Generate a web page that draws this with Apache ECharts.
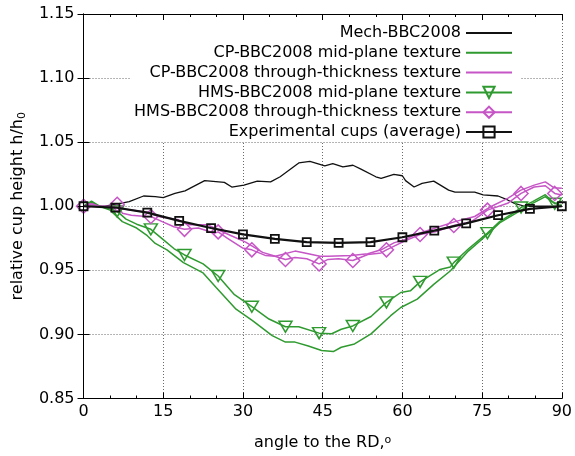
<!DOCTYPE html>
<html><head><meta charset="utf-8">
<script src="https://cdn.jsdelivr.net/npm/echarts@6/dist/echarts.min.js"></script>
<style>html,body{margin:0;padding:0;background:#fff}#c{width:575px;height:456px}</style>
</head><body><div id="c"></div>
<script>
// ---- data ----
const xTicks = [0, 15, 30, 45, 60, 75, 90];
const yTicks = [0.85, 0.90, 0.95, 1.00, 1.05, 1.10, 1.15];

const seriesNames = [
  'Mech-BBC2008',
  'CP-BBC2008 mid-plane texture',
  'CP-BBC2008 through-thickness texture',
  'HMS-BBC2008 mid-plane texture',
  'HMS-BBC2008 through-thickness texture',
  'Experimental cups (average)'
];

const mechAngle = [0,4,6.7,8.6,11.3,13.5,15,17.2,19.1,22.8,26.5,27.9,30.2,32.7,35.2,37,40.5,42.6,45.4,46.9,48.8,50.7,52.2,55,56,58.4,60,60.6,62.2,63.7,65.9,68.7,69.9,73.6,75.2,78,79.8,81.1,83,86,90];
const mechRatio = [1.000,1.000,1.002,1.0036,1.008,1.0075,1.0067,1.010,1.012,1.020,1.0186,1.015,1.0165,1.0196,1.019,1.023,1.0338,1.035,1.0315,1.0333,1.0307,1.032,1.029,1.023,1.0217,1.0248,1.0238,1.020,1.015,1.0178,1.0196,1.0126,1.011,1.011,1.0088,1.008,1.0049,1.0023,1.000,1.000,1.000];

const cpMidAngle = [0,1.5,3,5,7.3,10,12,13.5,15.7,18.8,22.5,25,28.7,31.8,35.5,38,39.8,42.3,44.8,47,48.5,51,54.1,57.8,59.7,62.8,65.9,69,72.4,75.2,78.3,81.4,84.5,86.9,88,89.4,90];
const cpMidRatio = [1.000,1.003,1.000,0.997,0.988,0.983,0.977,0.971,0.966,0.956,0.948,0.9365,0.9197,0.9108,0.899,0.894,0.894,0.891,0.8875,0.8866,0.890,0.8926,0.9004,0.9146,0.921,0.9275,0.939,0.9495,0.965,0.975,0.987,0.9946,1.0023,1.0075,1.004,1.001,1.001];

const cpThruAngle = [0,1.5,3,5,7.3,12,14.1,17.9,19.7,23.4,25.3,27.8,30.5,33.7,36.1,39.8,42.3,44.5,46,50.4,53.5,56,58.4,60.5,62.5,66.2,69.9,73.6,76.7,79.8,82.3,84.8,86.9,88.5,90];
const cpThruRatio = [1.000,1.002,1.000,1.000,0.998,0.9954,0.992,0.9894,0.9855,0.9855,0.9817,0.977,0.972,0.964,0.961,0.965,0.963,0.961,0.961,0.9615,0.963,0.966,0.9714,0.974,0.978,0.983,0.988,0.992,0.9998,1.0062,1.0126,1.0165,1.019,1.0145,1.014];

const hmsMidAngle = [0,1.5,3,5,6.33,8,10,12.67,15,17,19,22.5,25.33,28.4,31.67,34.9,38,40.5,44.33,46.7,48.5,50.67,54.1,57,59.7,61.5,63.33,67.1,69,69.67,72.5,76,78.3,81,82.33,84.5,86.9,88.67,90];
const hmsMidRatio = [1.000,1.004,1.000,0.998,0.996,0.990,0.986,0.982,0.974,0.967,0.962,0.955,0.9456,0.931,0.9216,0.912,0.906,0.906,0.901,0.9005,0.904,0.9066,0.914,0.925,0.9327,0.934,0.941,0.9507,0.9526,0.956,0.967,0.979,0.988,0.995,0.999,1.0036,1.009,1.002,1.004];
const hmsMidMarked = [6.33,12.67,19,25.33,31.67,38,44.33,50.67,57,63.33,69.67,76,82.33,88.67];

const hmsThruAngle = [0,1.5,3,5,6.33,7.3,9,11.7,12.67,14.8,17,19,21.6,24.7,25.33,27.1,29.9,31.67,34.3,36,38,39.8,42,44.33,46,48,50.67,53.5,56,57,59.7,60.5,63.33,66.2,69.67,73,76,79.8,82.33,84.8,86.9,88.67,90];
const hmsThruRatio = [1.000,1.002,1.000,0.999,1.0015,0.9946,0.993,0.992,0.992,0.988,0.984,0.982,0.983,0.979,0.980,0.975,0.9675,0.966,0.9615,0.961,0.9585,0.960,0.959,0.955,0.9585,0.959,0.9577,0.9623,0.9636,0.966,0.9714,0.973,0.978,0.980,0.985,0.988,0.997,1.0023,1.010,1.015,1.016,1.010,1.0088];
const hmsThruMarked = [0,6.33,12.67,19,25.33,31.67,38,44.33,50.67,57,63.33,69.67,76,82.33,88.67];

const expAngle = [0,6,12,18,24,30,36,42,48,54,60,66,72,78,84,90];
const expRatio = [1.000,0.999,0.995,0.9886,0.983,0.978,0.9745,0.972,0.9714,0.972,0.9758,0.981,0.9866,0.993,0.998,1.000];

// ---- build ----
const GREEN = '#2f9a2f', MAGENTA = '#c655c6', FONT = 'DejaVu Sans';
function pairs(a, v, marked) {
  return a.map((x, i) => {
    const d = { value: [x, v[i]] };
    if (marked && marked.indexOf(x) < 0) d.symbol = 'none';
    return d;
  });
}
const noSym = { color: 'rgba(0,0,0,0)', borderColor: 'rgba(0,0,0,0)', borderWidth: 0, opacity: 0 };
const chart = echarts.init(document.getElementById('c'), null, { renderer: 'canvas' });
const axisCommon = {
  axisLine: { show: true, lineStyle: { color: '#000', width: 1 } },
  axisTick: { show: true, inside: true, length: 6, lineStyle: { color: '#000' } },
};
chart.setOption({
  animation: false,
  backgroundColor: '#fff',
  grid: { left: 79, right: 12, top: 14, bottom: 54, containLabel: false },
  legend: {
    orient: 'vertical', right: 55, top: 14, align: 'right',
    padding: [11, 7, 1, 3], backgroundColor: '#fff',
    itemWidth: 46, itemHeight: 14, itemGap: 3.8,
    textStyle: { fontFamily: FONT, fontSize: 16, color: '#000', lineHeight: 16 },
    data: [
      { name: seriesNames[0], itemStyle: noSym },
      { name: seriesNames[1], itemStyle: noSym },
      { name: seriesNames[2], itemStyle: noSym },
      { name: seriesNames[3] },
      { name: seriesNames[4] },
      { name: seriesNames[5] }
    ], z: 4
  },
  xAxis: [
    Object.assign({}, axisCommon, {
      type: 'value', min: 0, max: 90, interval: 15, position: 'bottom',
      axisLabel: { fontFamily: FONT, fontSize: 16, color: '#000', margin: 5 },
      minorTick: { show: true, splitNumber: 3, length: 3, lineStyle: { color: '#000' } },
      splitLine: { show: true, lineStyle: { color: '#444', width: 0.8, type: [1, 2] } },
      name: 'angle to the RD,{s|o}', nameLocation: 'middle', nameGap: 36,
      nameTextStyle: { fontFamily: FONT, fontSize: 16, color: '#000',
        rich: { s: { fontFamily: FONT, fontSize: 11, verticalAlign: 'top', padding: [0, 0, 6, 0] } } }
    }),
    Object.assign({}, axisCommon, {
      type: 'value', min: 0, max: 90, interval: 15, position: 'top', z: 10,
      axisLabel: { show: false },
      minorTick: { show: true, splitNumber: 3, length: 3, lineStyle: { color: '#000' } },
      splitLine: { show: false }
    })
  ],
  yAxis: [
    Object.assign({}, axisCommon, {
      type: 'value', min: 0.85, max: 1.15, interval: 0.05, position: 'left',
      axisLabel: { fontFamily: FONT, fontSize: 16, color: '#000', margin: 9, formatter: v => v.toFixed(2) },
      splitLine: { show: true, lineStyle: { color: '#444', width: 0.8, type: [1, 2] } },
      name: 'relative cup height h/h{s|0}', nameLocation: 'middle', nameGap: 52, nameRotate: 90,
      nameTextStyle: { fontFamily: FONT, fontSize: 16, color: '#000', lineHeight: 20,
        rich: { s: { fontFamily: FONT, fontSize: 11, verticalAlign: 'bottom', lineHeight: 20, padding: [6, 0, 0, 0] } } }
    }),
    Object.assign({}, axisCommon, {
      type: 'value', min: 0.85, max: 1.15, interval: 0.05, position: 'right', z: 10,
      axisLabel: { show: false }, splitLine: { show: false }
    })
  ],
  series: [
    { name: seriesNames[0], type: 'line', symbol: 'none', showSymbol: false,
      lineStyle: { color: '#111', width: 1.3 }, itemStyle: { color: '#111' },
      data: pairs(mechAngle, mechRatio), z: 2 },
    { name: seriesNames[1], type: 'line', symbol: 'none', showSymbol: false,
      lineStyle: { color: GREEN, width: 1.5 }, itemStyle: { color: GREEN },
      data: pairs(cpMidAngle, cpMidRatio), z: 2 },
    { name: seriesNames[2], type: 'line', symbol: 'none', showSymbol: false,
      lineStyle: { color: MAGENTA, width: 1.5 }, itemStyle: { color: MAGENTA },
      data: pairs(cpThruAngle, cpThruRatio), z: 2 },
    { name: seriesNames[3], type: 'line', symbol: 'triangle', symbolRotate: 180, symbolSize: [13, 11],
      lineStyle: { color: GREEN, width: 1.5 },
      itemStyle: { color: 'rgba(255,255,255,0)', borderColor: GREEN, borderWidth: 1.5 },
      data: pairs(hmsMidAngle, hmsMidRatio, hmsMidMarked), z: 3 },
    { name: seriesNames[4], type: 'line', symbol: 'diamond', symbolSize: [14, 14],
      lineStyle: { color: MAGENTA, width: 1.5 },
      itemStyle: { color: 'rgba(255,255,255,0)', borderColor: MAGENTA, borderWidth: 1.5 },
      data: pairs(hmsThruAngle, hmsThruRatio, hmsThruMarked), z: 3 },
    { name: seriesNames[5], type: 'line', symbol: 'rect', symbolSize: 8,
      lineStyle: { color: '#111', width: 2.2 },
      itemStyle: { color: 'rgba(255,255,255,0)', borderColor: '#111', borderWidth: 1.8 },
      data: pairs(expAngle, expRatio), z: 4 }
  ]
});
</script>
</body></html>
